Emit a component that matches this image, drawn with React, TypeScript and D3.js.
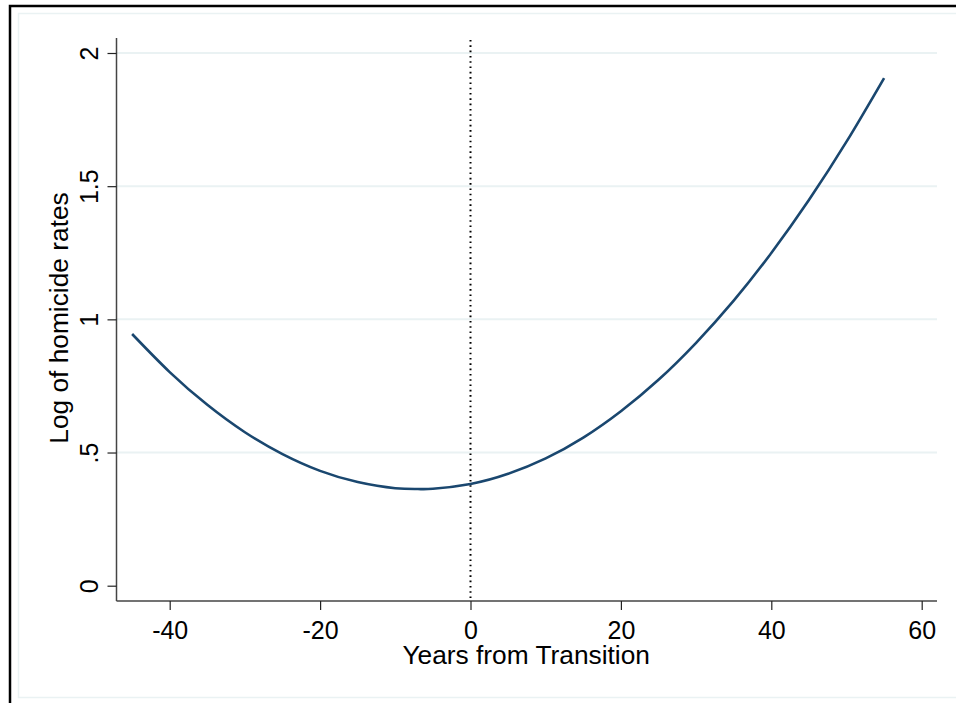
import React, { useEffect, useRef } from 'react';
import * as d3 from 'd3';

// years from transition and fitted log homicide rate
const years = [-45, -40, -35, -30, -25, -20, -15, -10, -7, -5, 0, 5, 10, 15, 20, 25, 30, 35, 40, 45, 50, 55];
const logRates = [0.945, 0.802, 0.679, 0.576, 0.494, 0.431, 0.389, 0.366, 0.363, 0.364, 0.382, 0.42, 0.478, 0.556, 0.655, 0.773, 0.912, 1.07, 1.249, 1.448, 1.667, 1.906];
const xTicks = [-40, -20, 0, 20, 40, 60];
const yTicks = [0, 0.5, 1, 1.5, 2];
const yTickLabels = ['0', '.5', '1', '1.5', '2'];
const transitionYear = 0;

const W = 956;
const H = 703;
const FONT = '"Liberation Sans", Arial, sans-serif';

export default function App() {
  const ref = useRef<SVGSVGElement>(null);

  useEffect(() => {
    const svg = d3.select(ref.current);
    svg.selectAll('*').remove();

    // outer frames
    svg.append('rect').attr('x', 0).attr('y', 0).attr('width', W).attr('height', H).attr('fill', '#fff');
    svg.append('rect')
      .attr('x', 18.5).attr('y', 13.5).attr('width', W + 20).attr('height', 684)
      .attr('fill', 'none').attr('stroke', '#eaf2f3').attr('stroke-width', 1.5);
    svg.append('rect')
      .attr('x', 10).attr('y', 6).attr('width', W + 20).attr('height', H + 20)
      .attr('fill', 'none').attr('stroke', '#000').attr('stroke-width', 2.5);

    const x = d3.scaleLinear().domain([-40, 60]).range([169.7, 921.7]);
    const y = d3.scaleLinear().domain([0, 2]).range([585.7, 53]);
    const left = 116.5;
    const right = 937;
    const bottom = 601;
    const top = 38;

    // gridlines
    svg.append('g')
      .selectAll('line')
      .data(yTicks.filter((d) => d > 0))
      .join('line')
      .attr('x1', left).attr('x2', right)
      .attr('y1', (d) => y(d)).attr('y2', (d) => y(d))
      .attr('stroke', '#eaf2f3').attr('stroke-width', 2);

    // transition line
    svg.append('line')
      .attr('x1', x(transitionYear)).attr('x2', x(transitionYear))
      .attr('y1', top + 2).attr('y2', bottom)
      .attr('stroke', '#000').attr('stroke-width', 2)
      .attr('stroke-dasharray', '1.6,3.7');

    // fitted curve
    const line = d3.line<number>()
      .x((_, i) => x(years[i]))
      .y((d) => y(d))
      .curve(d3.curveNatural);
    svg.append('path')
      .datum(logRates)
      .attr('fill', 'none')
      .attr('stroke', '#1a476f')
      .attr('stroke-width', 2.6)
      .attr('d', line);

    // axes
    const xAxis = svg.append('g').attr('transform', `translate(0,${bottom})`)
      .call(d3.axisBottom(x).tickValues(xTicks).tickSize(9).tickFormat((d) => String(d)));
    xAxis.select('.domain').attr('d', `M${left},0H${right}`).attr('stroke', '#444').attr('stroke-width', 1.5);
    xAxis.selectAll('.tick line').attr('stroke', '#222').attr('stroke-width', 1.2);
    xAxis.selectAll('.tick text')
      .attr('y', 38).attr('dy', null)
      .attr('font-family', FONT).attr('font-size', 25).attr('fill', '#000');

    const yAxis = svg.append('g').attr('transform', `translate(${left},0)`)
      .call(d3.axisLeft(y).tickValues(yTicks).tickSize(9).tickFormat((_, i) => yTickLabels[i]));
    yAxis.select('.domain').attr('d', `M0,${top}V${bottom}`).attr('stroke', '#444').attr('stroke-width', 1.5);
    yAxis.selectAll('.tick line').attr('stroke', '#222').attr('stroke-width', 1.2);
    yAxis.selectAll('.tick text')
      .attr('font-family', FONT).attr('font-size', 25).attr('fill', '#000')
      .attr('x', null).attr('dy', null)
      .attr('text-anchor', 'middle')
      .attr('transform', 'translate(-18.5,0) rotate(-90)');

    // axis titles
    svg.append('text')
      .attr('x', 526.2).attr('y', 663.5)
      .attr('text-anchor', 'middle')
      .attr('font-family', FONT).attr('font-size', 26.3)
      .text('Years from Transition');
    svg.append('text')
      .attr('transform', `translate(68,318) rotate(-90)`)
      .attr('text-anchor', 'middle')
      .attr('font-family', FONT).attr('font-size', 26.3)
      .text('Log of homicide rates');
  }, []);

  return (
    <svg ref={ref} width={W} height={H} style={{ position: 'absolute', left: 0, top: 0, display: 'block' }} />
  );
}
